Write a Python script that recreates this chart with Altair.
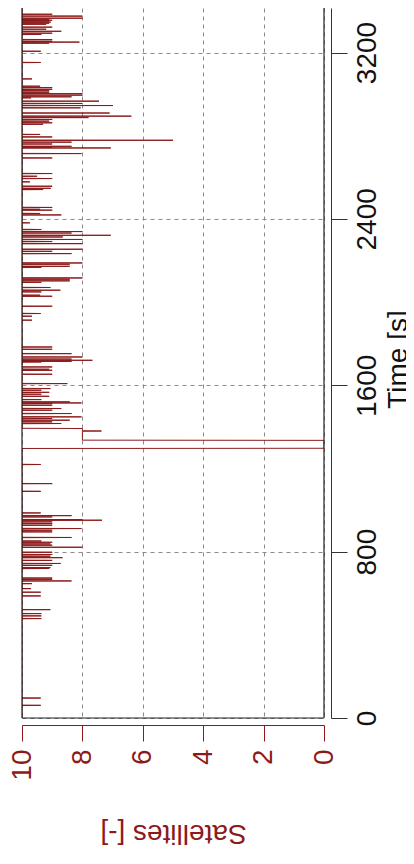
import altair as alt
import pandas as pd

RED = "#8B1A1A"
FONT = "Liberation Sans"

# Short drops of the satellite count: time [s] and satellites [-]
spike_t = [3423, 3384, 3375, 3365, 3360, 3355, 3351, 3346, 3341, 3336, 3322, 3312, 3302, 3293,
           3287, 3262, 3254, 3250, 3245, 3206, 3152, 3073, 3038, 3031, 3023, 3016, 3009, 3002,
           2995, 2987, 2982, 2966, 2955, 2945, 2934, 2909, 2894, 2887, 2878, 2870, 2862, 2855,
           2806, 2794, 2778, 2769, 2760, 2749, 2744, 2741, 2714, 2693, 2618, 2605, 2594, 2578,
           2557, 2547, 2541, 2455, 2446, 2442, 2426, 2419, 2381, 2349, 2339, 2332, 2321, 2313,
           2301, 2291, 2281, 2254, 2244, 2233, 2188, 2182, 2172, 2167, 2116, 2110, 2102, 2095,
           2070, 2057, 2049, 2033, 2028, 1980, 1945, 1932, 1913, 1784, 1773, 1752, 1736, 1726,
           1720, 1715, 1712, 1688, 1677, 1672, 1653, 1608, 1584, 1576, 1566, 1557, 1547, 1531,
           1520, 1515, 1512, 1504, 1488, 1480, 1464, 1448, 1440, 1432, 1424, 1416, 1219, 1127,
           1090, 986, 973, 967, 954, 951, 943, 935, 927, 911, 903, 895, 868, 851, 845, 837, 831,
           821, 797, 786, 778, 771, 758, 743, 734, 723, 719, 673, 667, 659, 646, 622, 605, 587,
           521, 502, 491, 478, 96, 61]
spike_v = [9.06, 9.0, 8.0, 8.0, 9.1, 9.0, 9.1, 9.05, 9.1, 9.2, 9.0, 9.2, 8.7, 9.0,
           9.36, 9.0, 9.0, 8.1, 9.1, 9.38, 9.38, 9.67, 9.4, 9.0, 9.0, 9.1, 9.1, 8.0,
           8.0, 8.36, 9.7, 7.45, 8.0, 6.99, 8.06, 7.1, 6.38, 7.8, 9.0, 9.1, 9.0, 9.3,
           9.4, 9.0, 5.0, 8.36, 9.0, 8.36, 9.0, 7.06, 8.03, 9.0, 9.0, 9.5, 9.0, 9.74,
           9.0, 9.05, 9.3, 9.0, 9.4, 9.0, 9.4, 8.7, 9.74, 9.36, 8.0, 8.36, 7.06, 8.65,
           8.0, 9.0, 8.0, 8.0, 9.0, 8.36, 8.0, 8.42, 8.42, 9.36, 8.0, 8.42, 8.42, 9.36,
           9.06, 8.73, 9.36, 9.4, 9.0, 9.0, 9.38, 9.67, 9.67, 9.0, 9.0, 8.36, 8.0, 8.36,
           7.67, 8.36, 9.36, 9.0, 9.1, 9.0, 9.0, 8.5, 9.06, 9.36, 9.1, 9.36, 9.1, 9.36,
           8.42, 8.03, 9.0, 9.0, 8.7, 9.0, 8.36, 8.03, 9.0, 8.42, 9.0, 8.7, 9.38, 9.0,
           9.38, 9.38, 8.36, 9.0, 8.0, 7.35, 9.0, 9.0, 9.0, 8.03, 9.0, 9.0, 8.36, 9.36, 9.0, 9.06, 9.0,
           8.0, 9.0, 9.0, 9.06, 8.66, 9.0, 8.72, 9.0, 9.06, 9.1, 9.0, 9.0, 8.36, 9.67, 9.7, 9.38, 9.38,
           9.06, 9.36, 9.36, 9.36, 9.38, 9.38]

# Signal outage and recovery
outage_t = [1296, 1297, 1335, 1336, 1379, 1380, 1381, 1392, 1393]
outage_v = [10, 0, 0, 8, 8, 7.37, 8, 8, 10]

rows = [(0.0, 10.0)]
for t, v in zip(spike_t, spike_v):
    rows += [(t - 1, 10.0), (t, v), (t + 1, 10.0)]
rows += list(zip(outage_t, outage_v))
rows.append((3460.0, 10.0))
df = pd.DataFrame(rows, columns=["t", "sat"]).sort_values("t", kind="stable")

T_MAX = 3414
x_scale = alt.Scale(domain=[0, 10], reverse=True, nice=False, zero=False)
y_scale = alt.Scale(domain=[0, T_MAX], nice=False, zero=False)

x_axis = alt.Axis(
    orient="bottom", values=[0, 2, 4, 6, 8, 10], format="d", offset=7,
    domainColor=RED, domainWidth=1, tickColor=RED, tickSize=16, tickWidth=1,
    labelColor=RED, labelFont=FONT, labelFontSize=28, labelAngle=270,
    labelAlign="right", labelBaseline="middle", labelPadding=8,
    labelFlush=False, labelOverlap=False,
    title="Satellites [-]", titleColor=RED, titleFont=FONT, titleFontSize=28,
    titleFontWeight="normal", titleAngle=180, titleAlign="center",
    titleBaseline="alphabetic", titleX=151, titleY=99,
    grid=True, gridColor="#8a8a8a", gridDash=[4, 4], gridWidth=1,
)
y_axis = alt.Axis(
    orient="right", values=[0, 800, 1600, 2400, 3200], format="d", offset=7,
    domainColor="#333333", domainWidth=1, tickColor="#333333", tickSize=16, tickWidth=1,
    labelColor="#111111", labelFont=FONT, labelFontSize=28, labelAngle=270,
    labelAlign="center", labelBaseline="top", labelPadding=6,
    labelFlush=False, labelOverlap=False,
    title="Time [s]", titleColor="#111111", titleFont=FONT, titleFontSize=28,
    titleFontWeight="normal", titleAngle=270, titleAlign="center",
    titleBaseline="alphabetic", titleX=75, titleY=351,
    grid=True, gridColor="#8a8a8a", gridDash=[4, 4], gridWidth=1,
)

line = alt.Chart(df).mark_line(color=RED, strokeWidth=1, clip=True).encode(
    x=alt.X("sat:Q", scale=x_scale, axis=x_axis),
    y=alt.Y("t:Q", scale=y_scale, axis=y_axis),
    order=alt.Order("t:Q"),
)

frame_color = "#222222"
left_edge = alt.Chart().mark_rule(color=frame_color, strokeWidth=1.2).encode(x=alt.datum(10))
right_edge = alt.Chart().mark_rule(color=frame_color, strokeWidth=1.2).encode(x=alt.datum(0))
bottom_edge = alt.Chart().mark_rule(color=frame_color, strokeWidth=1.2).encode(y=alt.datum(0))

chart = alt.layer(line, left_edge, right_edge, bottom_edge).properties(
    width=302, height=710,
    autosize=alt.AutoSizeParams(type="none"),
    padding={"left": 14, "top": 0, "right": 82, "bottom": 130},
    background="white",
).configure_view(stroke="transparent")

chart.save("out.html", embed_options={"renderer": "svg", "actions": False})
